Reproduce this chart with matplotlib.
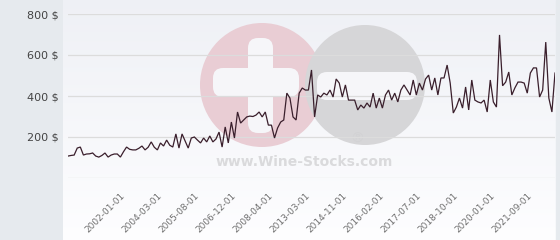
import matplotlib
matplotlib.use("Agg")
import matplotlib.pyplot as plt
import numpy as np
from matplotlib.patches import Circle, FancyBboxPatch

# ---- data (category axis, values in $) ----
prices = [
    107, 110, 112, 146, 151, 112, 117, 118, 122, 107, 102, 110, 122, 102, 112, 117, 117, 102, 128, 151,
    140, 137, 137, 145, 156, 137, 150, 176, 150, 137, 171, 156, 185, 160, 151, 215, 146, 215, 180, 146,
    195, 200, 185, 171, 195, 176, 205, 176, 190, 224, 151, 249, 171, 273, 195, 322, 268, 283, 298, 302,
    300, 307, 322, 298, 322, 258, 258, 195, 244, 273, 283, 414, 390, 298, 283, 414, 439, 429, 429, 527,
    298, 405, 395, 414, 405, 429, 395, 483, 463, 395, 454, 380, 380, 380, 332, 356, 341, 366, 346, 414,
    341, 390, 341, 405, 429, 380, 414, 371, 429, 454, 430, 405, 478, 405, 463, 429, 483, 502, 429, 488,
    405, 488, 488, 551, 463, 317, 346, 390, 341, 444, 332, 478, 380, 371, 366, 380, 322, 478, 371, 346,
    698, 450, 468, 517, 405, 440, 468, 468, 463, 414, 512, 537, 537, 395, 429, 663, 390, 322, 512,
]
tick_labels = ["2002-01-01", "2004-03-01", "2005-08-01", "2006-12-01", "2008-04-01", "2013-03-01",
               "2014-11-01", "2016-02-01", "2017-07-01", "2018-10-01", "2020-01-01", "2021-09-01"]
tick_index = [18, 30, 42, 54, 66, 78, 90, 102, 114, 126, 138, 150]
y_ticks = [0, 200, 400, 600, 800]
y_labels = ["", "200 $", "400 $", "600 $", "800 $"]

W, H = 560, 240
fig = plt.figure(figsize=(W / 100, H / 100), dpi=100)
fig.patch.set_facecolor("#e6eaee")

# plot-area background gradient
bg = fig.add_axes([63 / W, 0, 493 / W, 1], zorder=0)
grad = np.linspace(0, 1, 256).reshape(-1, 1)
top = np.array([0.935, 0.942, 0.962])
bot = np.array([0.995, 0.995, 1.0])
img = top + (bot - top) * grad[:, :, None] * np.ones((1, 1, 3))
bg.imshow(img, aspect="auto", extent=[0, 1, 0, 1], origin="upper")
bg.set_axis_off()

# watermark
wm = fig.add_axes([0, 0, 1, 1], zorder=1)
wm.set_xlim(0, W)
wm.set_ylim(H, 0)
wm.set_axis_off()
wm.patch.set_alpha(0)
wm.add_patch(Circle((262, 85), 62, color="#e9cdd4", lw=0))
wm.add_patch(Circle((365, 85), 60, color="#d6d6d8", lw=0))
wm.add_patch(FancyBboxPatch((252, 42), 17, 87, boxstyle="round,pad=4,rounding_size=10",
                            fc="#f6f6f9", ec="none"))
wm.add_patch(FancyBboxPatch((217, 72), 78, 21, boxstyle="round,pad=4,rounding_size=10",
                            fc="#f6f6f9", ec="none"))
wm.add_patch(FancyBboxPatch((321, 76), 92, 20, boxstyle="round,pad=4,rounding_size=10",
                            fc="#f6f6f9", ec="none"))
wm.text(304, 162, "www.Wine-Stocks.com", ha="center", va="center", fontsize=10,
        fontweight="bold", color="#dadadc")
wm.text(357, 139, "®", ha="center", va="center", fontsize=10, color="#d2d2d4")

# main chart
ax = fig.add_axes([68 / W, 62 / H, 487 / W, 164 / H], zorder=2)
ax.patch.set_alpha(0)
x = np.arange(len(prices))
ax.plot(x, prices, color="#3a1f2c", lw=0.9, solid_joinstyle="miter")
ax.set_xlim(0, len(prices) - 1)
ax.set_ylim(0, 800)
ax.set_yticks(y_ticks)
ax.set_yticklabels(y_labels, fontsize=8, color="#444444")
ax.set_xticks(tick_index)
ax.set_xticklabels(tick_labels, fontsize=6.5, color="#707070", rotation=45,
                   ha="right", va="center", rotation_mode="anchor")
ax.tick_params(axis="y", length=0, pad=7)
ax.tick_params(axis="x", length=0, pad=12)
ax.grid(axis="y", color="#dcdcdc", lw=0.9)
ax.set_axisbelow(True)
for s in ax.spines.values():
    s.set_visible(False)

# right border strip
fig.patches.append(matplotlib.patches.Rectangle((556 / W, 0), 4 / W, 1, transform=fig.transFigure,
                                                 color="#e6eaee", zorder=5))

fig.savefig("out.png", dpi=100)
